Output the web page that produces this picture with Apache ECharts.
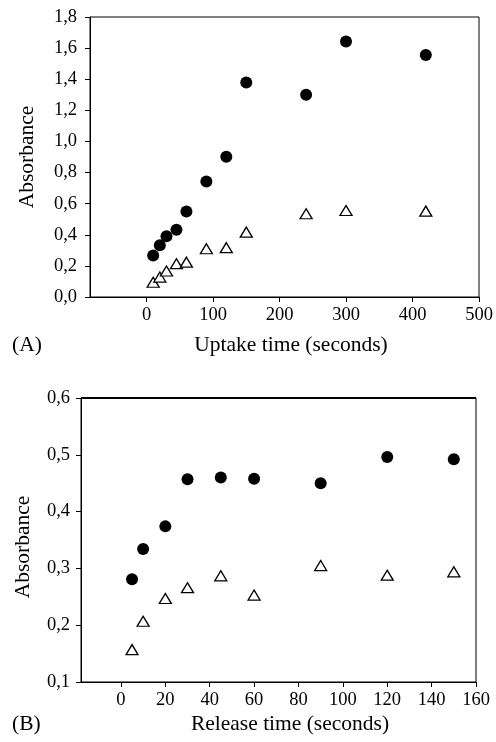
<!DOCTYPE html>
<html><head><meta charset="utf-8">
<script src="https://cdn.jsdelivr.net/npm/echarts@6/dist/echarts.min.js"></script>
<style>html,body{margin:0;padding:0;background:#fff;}#c{width:496px;height:742px;}</style>
</head><body><div id="c"></div>
<script>
// Panel A: uptake
const uptakeTime = [10, 20, 30, 45, 60, 90, 120, 150, 240, 300, 420];
const uptakeCircle = [0.267, 0.332, 0.391, 0.432, 0.55, 0.742, 0.902, 1.379, 1.30, 1.642, 1.556];
const uptakeTriangle = [0.095, 0.128, 0.167, 0.214, 0.224, 0.31, 0.317, 0.417, 0.535, 0.556, 0.552];
const uptakeTicks = [0, 100, 200, 300, 400, 500];
// Panel B: release
const releaseTime = [5, 10, 20, 30, 45, 60, 90, 120, 150];
const releaseCircle = [0.281, 0.334, 0.374, 0.457, 0.46, 0.458, 0.450, 0.496, 0.492];
const releaseTriangle = [0.157, 0.207, 0.247, 0.266, 0.287, 0.253, 0.305, 0.288, 0.294];
const releaseTicks = [0, 20, 40, 60, 80, 100, 120, 140, 160];

const FONT = '"Liberation Serif", "Times New Roman", serif';
const pair = (xs, ys) => xs.map((x, i) => [x, ys[i]]);
const comma = v => v.toFixed(1).replace('.', ',');

const xAxisBase = (min, max, ticks, idx) => ({
  type: 'value', gridIndex: idx, min: min, max: max,
  axisLine: {show: true, onZero: false, lineStyle: {color: '#000', width: 1}},
  axisTick: {show: true, inside: false, length: 5, customValues: ticks, lineStyle: {color: '#000'}},
  axisLabel: {customValues: ticks, color: '#000', fontFamily: FONT, fontSize: 18.5, margin: 9},
  splitLine: {show: false}
});
const yAxisBase = (min, max, interval, idx, margin) => ({
  type: 'value', gridIndex: idx, min: min, max: max, interval: interval,
  axisLine: {show: true, onZero: false, lineStyle: {color: '#000', width: 1}},
  axisTick: {show: true, inside: false, length: 5, lineStyle: {color: '#000'}},
  axisLabel: {color: '#000', fontFamily: FONT, fontSize: 18.5, margin: margin, formatter: comma},
  splitLine: {show: false}
});

const circleStyle = {color: '#000', opacity: 1};
const triStyle = {color: '#fff', borderColor: '#000', borderWidth: 1.3, opacity: 1};

const option = {
  animation: false,
  backgroundColor: '#fff',
  grid: [
    {left: 90, top: 17, width: 389, height: 280, show: true, borderColor: '#000', borderWidth: 1, backgroundColor: 'transparent'},
    {left: 81, top: 398, width: 395, height: 284, show: true, borderColor: '#000', borderWidth: 1, backgroundColor: 'transparent'}
  ],
  xAxis: [xAxisBase(-85, 500, uptakeTicks, 0), xAxisBase(-18, 160, releaseTicks, 1)],
  yAxis: [yAxisBase(0, 1.8, 0.2, 0, 13), yAxisBase(0.1, 0.6, 0.1, 1, 11)],
  series: [
    {type: 'scatter', xAxisIndex: 0, yAxisIndex: 0, data: pair(uptakeTime, uptakeCircle), symbol: 'circle', symbolSize: 12, itemStyle: circleStyle},
    {type: 'scatter', xAxisIndex: 0, yAxisIndex: 0, data: pair(uptakeTime, uptakeTriangle), symbol: 'triangle', symbolSize: [12, 10], itemStyle: triStyle},
    {type: 'scatter', xAxisIndex: 1, yAxisIndex: 1, data: pair(releaseTime, releaseCircle), symbol: 'circle', symbolSize: 12, itemStyle: circleStyle},
    {type: 'scatter', xAxisIndex: 1, yAxisIndex: 1, data: pair(releaseTime, releaseTriangle), symbol: 'triangle', symbolSize: [12, 10], itemStyle: triStyle}
  ],
  graphic: [
    {type: 'line', shape: {x1: 81, y1: 398, x2: 476, y2: 398}, style: {stroke: '#000', lineWidth: 2}, z: 100},
    {type: 'text', x: 27, y: 157, rotation: Math.PI / 2, style: {text: 'Absorbance', font: '21.5px ' + FONT, fill: '#000', align: 'center', verticalAlign: 'middle'}},
    {type: 'text', x: 23, y: 547, rotation: Math.PI / 2, style: {text: 'Absorbance', font: '21.5px ' + FONT, fill: '#000', align: 'center', verticalAlign: 'middle'}},
    {type: 'text', x: 291, y: 345, style: {text: 'Uptake time (seconds)', font: '21.5px ' + FONT, fill: '#000', align: 'center', verticalAlign: 'middle'}},
    {type: 'text', x: 290, y: 724, style: {text: 'Release time (seconds)', font: '21.5px ' + FONT, fill: '#000', align: 'center', verticalAlign: 'middle'}},
    {type: 'text', x: 12, y: 345, style: {text: '(A)', font: '21.5px ' + FONT, fill: '#000', align: 'left', verticalAlign: 'middle'}},
    {type: 'text', x: 12, y: 724, style: {text: '(B)', font: '21.5px ' + FONT, fill: '#000', align: 'left', verticalAlign: 'middle'}}
  ]
};
echarts.init(document.getElementById('c'), null, {renderer: 'canvas'}).setOption(option);
</script></body></html>
